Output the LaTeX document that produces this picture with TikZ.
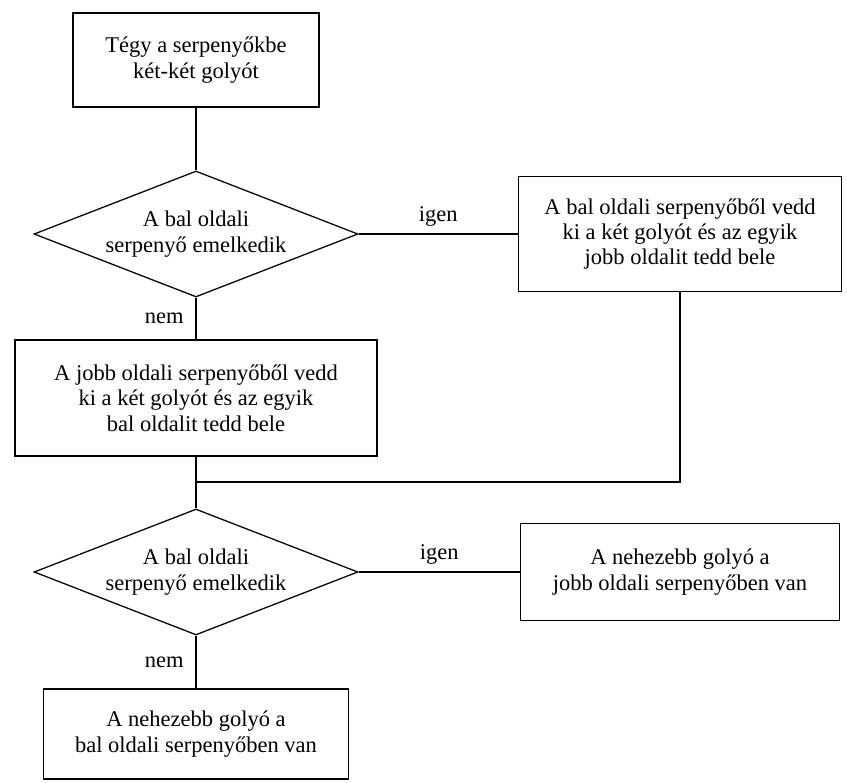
\documentclass[tikz,border=0pt]{standalone}
\usepackage{fontspec}
\setmainfont{Liberation Serif}
\usepackage{tikz}
\usetikzlibrary{shapes.geometric}

\begin{document}
\begin{tikzpicture}[node distance=4cm]
        \tikzstyle{process} = [rectangle, draw=black, line width=0.9pt, align=center, font=\fontsize{16}{18}\selectfont]
        \tikzstyle{decision} = [diamond, aspect=2.5, inner sep=0pt, minimum width=8.1cm, minimum height=3.15cm, draw=black, line width=0.9pt, align=center, font=\fontsize{16}{18}\selectfont]
        \tikzstyle{line} = [line width=0.9pt]
        \tikzstyle{answer} = [font=\fontsize{16}{18}\selectfont]

        \useasboundingbox (-4.9,1.5) rectangle (16.275,-18.075);

        \node (start) [process, minimum width=6.15cm, minimum height=2.35cm] {Tégy a serpenyőkbe\\két-két golyót};
        \node (dec1) [decision, below of=start, yshift=-0.35cm] {A bal oldali\\serpenyő emelkedik};
        \node (movel) [process, right of=dec1, xshift=8.1cm, minimum width=8.07cm, minimum height=2.875cm] {A bal oldali serpenyőből vedd\\ki a két golyót és az egyik\\jobb oldalit tedd bele};
        \node (mover) [process, below of=dec1, yshift=-0.1cm, minimum width=9.05cm, minimum height=2.9cm] {A jobb oldali serpenyőből vedd\\ki a két golyót és az egyik\\bal oldalit tedd bele};
        \node (dec2) [decision, below of=mover, yshift=-0.35cm] {A bal oldali\\serpenyő emelkedik};
        \node (outr) [process, right of=dec2, xshift=8.1cm, minimum width=7.975cm, minimum height=2.425cm] {A nehezebb golyó a\\jobb oldali serpenyőben van};
        \node (outl) [process, below of=dec2, yshift=-0.05cm, minimum width=7.625cm, minimum height=2.25cm] {A nehezebb golyó a\\bal oldali serpenyőben van};
        \coordinate (join) at (0,-10.55);

        \draw [line] (start) -- (dec1);
        \draw [line] (dec1) -- node[answer, above=2pt] {igen} (movel);
        \draw [line] (dec1) -- node[answer, left=5pt] {nem} (mover);
        \draw [line] (mover) -- (dec2);
        \draw [line] (movel) |- (join);
        \draw [line] (dec2) -- node[answer, above=2pt] {igen} (outr);
        \draw [line] (dec2) -- node[answer, left=5pt] {nem} (outl);
        \end{tikzpicture}
\end{document}
